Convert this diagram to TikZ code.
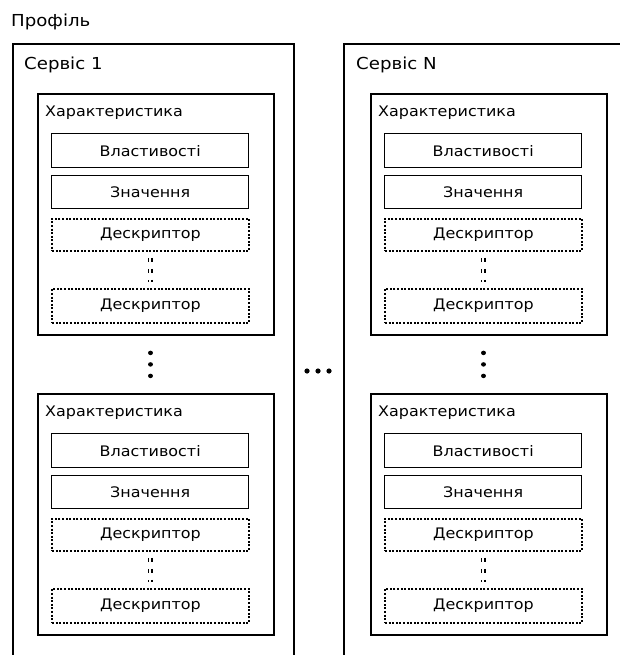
\documentclass[tikz,border=0pt]{standalone}
\usepackage{fontspec}
\setmainfont{DejaVu Sans}[FakeStretch=1.1]
\tikzset{
  svc/.style={draw, line width=1.8pt, anchor=north west, inner sep=0pt},
  chr/.style={draw, line width=1.9pt, anchor=north west, minimum width=236pt, minimum height=241pt, inner sep=0pt},
  lbl/.style={anchor=west, inner sep=0pt, font=\fontsize{14.5}{16}\selectfont},
  biglbl/.style={anchor=west, inner sep=0pt, font=\fontsize{16.5}{18}\selectfont},
  solidbox/.style={draw, line width=1.4pt, anchor=north west, minimum width=197pt, inner sep=0pt, font=\fontsize{14.5}{16}\selectfont},
  descbox/.style={solidbox, line width=1.9pt, dash pattern=on 2pt off 1.6pt},
  smalldots/.style={line width=1.2pt, double, double distance=2pt,
    shorten <=6pt, shorten >=6pt, dash pattern=on 4pt off 7pt},
  bigdots/.style={line width=4.5pt, line cap=round,
    shorten <=17pt, shorten >=17pt, dash pattern=on 0.01pt off 11.5pt},
  hdot/.style={fill=black}
}
\newcommand{\charblk}[3]{%
  \begin{scope}[shift={(#2,#3)}]
    \node[chr] (#1) at (0,0) {};
    \node[lbl] (#1t) at (8,20) {Характеристика};
    \node[solidbox, minimum height=34pt] (#1p) at (14,40) {Властивості};
    \node[solidbox, minimum height=33pt] (#1v) at (14,82) {Значення};
    \node[descbox, minimum height=32pt] (#1a) at (14,125) {Дескриптор};
    \node[descbox, minimum height=34pt] (#1b) at (14,195) {Дескриптор};
    \draw[smalldots] (#1a) -- (#1b);
  \end{scope}}
\begin{document}
\begin{tikzpicture}[x=1pt,y=-1pt]
  \useasboundingbox (0,0) rectangle (620,655);
  \clip (0,0) rectangle (620,655);
  \node[biglbl] (prof) at (11,22) {Профіль};
  \node[svc, minimum width=281pt, minimum height=640pt] (S1) at (12,43) {};
  \node[svc, minimum width=300pt, minimum height=640pt] (SN) at (343,43) {};
  \node[biglbl] (S1t) at (24,65) {Сервіс 1};
  \node[biglbl] (SNt) at (356,65) {Сервіс N};
  \charblk{A}{37}{93}
  \charblk{B}{37}{393}
  \charblk{C}{370}{93}
  \charblk{D}{370}{393}
  \draw[bigdots] (Ab.south |- A.south) -- (Ab.south |- B.north);
  \draw[bigdots] (Cb.south |- C.south) -- (Cb.south |- D.north);
  \foreach \x in {307,318,329} \fill[hdot] (\x,371) circle (2.6);
\end{tikzpicture}
\end{document}
